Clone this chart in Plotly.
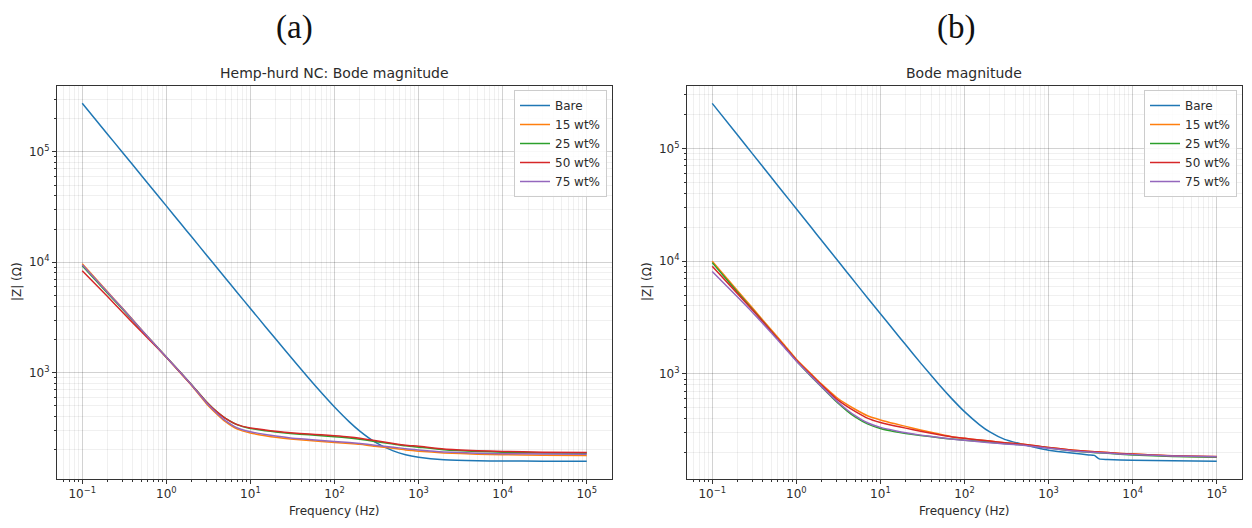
import plotly.graph_objects as go

# ---------------- data ----------------
freq = [0.1, 0.2, 0.3, 0.5, 0.7, 1, 1.5, 2, 3, 4, 5, 7, 10, 15, 20, 30, 50, 70,
        100, 150, 200, 300, 500, 700, 1000, 2000, 5000, 1e4, 3e4, 1e5]

series_names = ["Bare", "15 wt%", "25 wt%", "50 wt%", "75 wt%"]
colors = ["#1f77b4", "#ff7f0e", "#2ca02c", "#d62728", "#9467bd"]

# Panel (a): Hemp-hurd NC
a_bare = [275000, 144500, 99100, 61700, 45100, 32400, 22200, 17000, 11650, 8910, 7240, 5300,
          3820, 2627, 2017, 1393, 881, 658, 489, 359, 296, 237, 196, 181, 172, 163, 159.3,
          158.7, 158.2, 158]
a_15 = [9700, 5400, 3850, 2480, 1870, 1380, 980, 767, 525, 422, 363, 309, 285, 269, 260, 251,
        243, 239, 234, 229, 225, 216, 207, 200, 195, 188, 183, 181, 179.5, 178.6]
a_25 = [9300, 5250, 3780, 2450, 1860, 1385, 992, 780, 545, 442, 388, 337, 313, 299, 291, 282,
        274, 269, 264, 257, 250, 239, 226, 218, 212, 201, 194, 191, 188, 187]
a_50 = [8400, 4900, 3550, 2370, 1830, 1380, 987, 776, 543, 442, 389, 339, 316, 303, 295, 286,
        279, 274, 269, 262, 255, 243, 229, 221, 216, 204, 197, 194, 191, 190]
a_75 = [9500, 5350, 3830, 2470, 1870, 1385, 990, 775, 535, 430, 370, 316, 292, 276, 267, 257,
        249, 244, 239, 234, 229, 221, 212, 205, 200, 192, 187, 185, 184, 183]

# Panel (b)
freq_b_bare = [0.1, 0.2, 0.3, 0.5, 0.7, 1, 1.5, 2, 3, 4, 5, 7, 10, 15, 20, 30, 50, 70, 100,
               150, 200, 300, 500, 700, 1000, 2000, 3000, 3500, 4000, 5000, 1e4, 3e4, 1e5]
b_bare = [251000, 131500, 90000, 55700, 40700, 29200, 19950, 15250, 10440, 7980, 6480, 4730,
          3420, 2350, 1811, 1251, 799, 606, 462, 355, 305, 262, 236, 222, 210, 197, 191, 189,
          176, 174, 171, 169, 168]
b_15 = [10000, 5450, 3850, 2470, 1850, 1350, 1000, 810, 620, 535, 485, 425, 390, 360, 342, 318,
        292, 277, 268, 259, 253, 245, 237, 230, 222, 210, 200, 194, 187, 184]
b_25 = [9700, 5300, 3750, 2400, 1790, 1310, 950, 765, 565, 470, 415, 360, 328, 307, 296, 284,
        271, 264, 258, 252, 247, 241, 234, 228, 220, 207, 197, 191, 185, 182]
b_50 = [9000, 5150, 3700, 2400, 1800, 1330, 980, 795, 600, 515, 465, 405, 370, 345, 330, 310,
        288, 276, 268, 259, 253, 245, 237, 230, 222, 210, 200, 194, 188, 185]
b_75 = [8100, 4800, 3520, 2330, 1760, 1300, 955, 770, 575, 480, 425, 368, 335, 313, 300, 286,
        272, 264, 257, 250, 245, 239, 232, 226, 219, 207, 198, 192, 187, 184]

x_tickvals = [0.1, 1, 10, 100, 1000, 10000, 100000]
x_ticktext = ["10<sup>−1</sup>", "10<sup>0</sup>", "10<sup>1</sup>", "10<sup>2</sup>",
              "10<sup>3</sup>", "10<sup>4</sup>", "10<sup>5</sup>"]
y_tickvals = [1000, 10000, 100000]
y_ticktext = ["10<sup>3</sup>", "10<sup>4</sup>", "10<sup>5</sup>"]

panel_a_title = "Hemp-hurd NC: Bode magnitude"
panel_b_title = "Bode magnitude"
x_title = "Frequency (Hz)"
y_title = "|Z| (Ω)"

# ---------------- figure ----------------
fig = go.Figure()

FONT = "DejaVu Sans"
TXT = "#2b2b2b"
a_data = [a_bare, a_15, a_25, a_50, a_75]
b_data = [b_bare, b_15, b_25, b_50, b_75]

for i, (name, ys) in enumerate(zip(series_names, a_data)):
    fig.add_trace(go.Scatter(x=freq, y=ys, name=name, mode="lines",
                             line=dict(color=colors[i], width=1.5, shape="spline", smoothing=0.5),
                             xaxis="x", yaxis="y", legend="legend"))
for i, (name, ys) in enumerate(zip(series_names, b_data)):
    xs = freq_b_bare if i == 0 else freq
    fig.add_trace(go.Scatter(x=xs, y=ys, name=name, mode="lines",
                             line=dict(color=colors[i], width=1.5, shape="spline", smoothing=0.5),
                             xaxis="x2", yaxis="y2", legend="legend2"))

W, H = 1252, 528
ax_a = (57, 612)
ax_b = (687, 1242)
y_top, y_bot = 86, 479

def xdom(p):
    return [p[0] / W, p[1] / W]

ydom = [1 - y_bot / H, 1 - y_top / H]

grid_major = "rgba(0,0,0,0.12)"
grid_minor = "rgba(0,0,0,0.06)"

def axis_common():
    return dict(type="log", ticks="outside", ticklen=4, tickcolor="#333",
                showline=True, linecolor="#333", linewidth=1, mirror=True,
                showgrid=True, gridcolor=grid_major, gridwidth=1, zeroline=False,
                tickfont=dict(family=FONT, size=12, color=TXT),
                minor=dict(dtick="D1", ticks="outside", ticklen=2, tickcolor="#333",
                           showgrid=True, gridcolor=grid_minor, gridwidth=1))

def xaxis_cfg(p, anchor):
    d = axis_common()
    d.update(domain=xdom(p), anchor=anchor, range=[-1.3, 5.3],
             tickvals=x_tickvals, ticktext=x_ticktext)
    return d

def yaxis_cfg(anchor, rng):
    d = axis_common()
    d.update(domain=ydom, anchor=anchor, range=rng,
             tickvals=y_tickvals, ticktext=y_ticktext)
    return d

legend_cfg = dict(font=dict(family=FONT, size=12, color=TXT), bgcolor="rgba(255,255,255,0.85)",
                  bordercolor="#cccccc", borderwidth=1, xanchor="right", yanchor="top",
                  y=1 - 90 / H, tracegroupgap=0, itemwidth=30)

fig.update_layout(
    width=W, height=H, margin=dict(l=0, r=0, t=0, b=0),
    paper_bgcolor="white", plot_bgcolor="white",
    xaxis=xaxis_cfg(ax_a, "y"), yaxis=yaxis_cfg("x", [2.038, 5.596]),
    xaxis2=xaxis_cfg(ax_b, "y2"), yaxis2=yaxis_cfg("x2", [2.067, 5.554]),
    legend=dict(legend_cfg, x=607 / W),
    legend2=dict(legend_cfg, x=1237 / W),
    showlegend=True,
)

annots = [
    dict(text="(a)", x=294 / W, y=1 - 27 / H, font=dict(family="Liberation Serif", size=33, color="#111")),
    dict(text="(b)", x=956 / W, y=1 - 27 / H, font=dict(family="Liberation Serif", size=33, color="#111")),
    dict(text=panel_a_title, x=(ax_a[0] + ax_a[1]) / 2 / W, y=1 - 73 / H,
         font=dict(family=FONT, size=14, color=TXT)),
    dict(text=panel_b_title, x=(ax_b[0] + ax_b[1]) / 2 / W, y=1 - 73 / H,
         font=dict(family=FONT, size=14, color=TXT)),
    dict(text=x_title, x=(ax_a[0] + ax_a[1]) / 2 / W, y=1 - 511 / H,
         font=dict(family=FONT, size=12, color=TXT)),
    dict(text=x_title, x=(ax_b[0] + ax_b[1]) / 2 / W, y=1 - 511 / H,
         font=dict(family=FONT, size=12, color=TXT)),
    dict(text=y_title, x=17 / W, y=1 - 282 / H, textangle=-90,
         font=dict(family=FONT, size=12, color=TXT)),
    dict(text=y_title, x=647 / W, y=1 - 282 / H, textangle=-90,
         font=dict(family=FONT, size=12, color=TXT)),
]
for a in annots:
    a.update(xref="paper", yref="paper", showarrow=False, xanchor="center", yanchor="middle")
    fig.add_annotation(**a)

fig.write_html("out.html")
